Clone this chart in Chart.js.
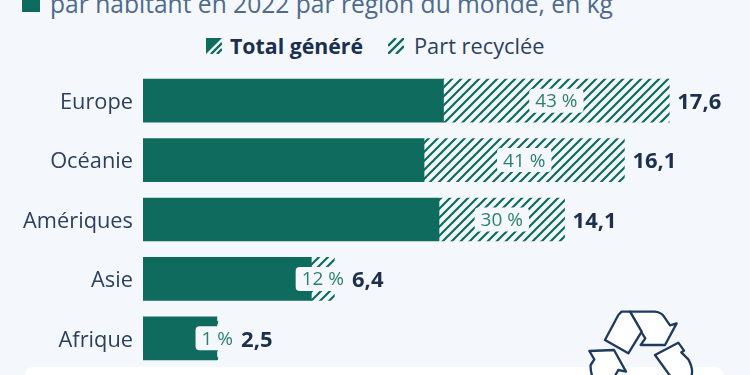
<!DOCTYPE html>
<html lang="fr">
<head>
<meta charset="utf-8">
<script src="https://cdn.jsdelivr.net/npm/chart.js@4"></script>
<style>
  html, body { margin: 0; padding: 0; background: #f4f8fc; }
  #wrap { position: relative; width: 750px; height: 375px; overflow: hidden; font-family: "Open Sans", sans-serif; }
  #panel { position: absolute; left: 25px; top: 367px; width: 698px; height: 30px; background: #fff; border-radius: 8px; }
  #chart { position: absolute; left: 0; top: 0; }
  #square { position: absolute; left: 22px; top: -6px; width: 18px; height: 18px; background: #0f6b5e; }
  #title { position: absolute; left: 50px; top: -12px; font-size: 24.6px; line-height: 32px; color: #4f6a8a; white-space: nowrap; }
  .leg { position: absolute; top: 32px; font-size: 21.8px; line-height: 28px; white-space: nowrap; color: #2b3f5f; }
  .swatch { position: absolute; top: 38px; }
  #icon { position: absolute; left: 540px; top: 290px; }
</style>
</head>
<body>
<div id="wrap">
  <div id="panel"></div>
  <div id="square"></div>
  <div id="title">par habitant en 2022 par région du monde, en kg</div>
  <svg class="swatch" style="left:206px" width="16" height="16" viewBox="0 0 16 16">
    <path d="M0 0H16L0 16Z" fill="#0f6b5e"/><path d="M5 16L16 5M11 16L16 11" stroke="#0f6b5e" stroke-width="2.4"/>
  </svg>
  <div class="leg" style="left:230px;font-size:21.3px;font-weight:700;color:#1c2f4e">Total généré</div>
  <svg class="swatch" style="left:388px" width="16" height="16" viewBox="0 0 16 16">
    <path d="M0 8L8 0M0 16L16 0M8 16L16 8" stroke="#0f6b5e" stroke-width="2.4"/>
  </svg>
  <div class="leg" style="left:414px">Part recyclée</div>
  <canvas id="chart" width="750" height="375"></canvas>
  <svg id="icon" width="210" height="85" viewBox="0 0 630 255" fill="#fff" stroke="#1f3a5f" stroke-width="7" stroke-linejoin="round">
    <path d="M270 65H345Q365 68 372 80L390 106L410 100L375 165H302L316 145L303 125Z"/>
    <path d="M245 65H270L305 125L265 190L195 150L235 75Z"/>
    <path d="M148 183L222 180L258 245L235 240L215 275H165Q150 250 152 225L163 208Z"/>
    <path d="M415 158L432 182L424 187L445 208Q460 235 455 255L440 285H410L345 195Z"/>
  </svg>
</div>
<script>
var regions = ["Europe", "Océanie", "Amériques", "Asie", "Afrique"]
var recycledKg = [7.55, 6.7, 4.2, 0.77, 0.03]
var restKg = [10.05, 9.4, 9.9, 5.63, 2.47]
var totals = ["17,6", "16,1", "14,1", "6,4", "2,5"]
var shares = ["43 %", "41 %", "30 %", "12 %", "1 %"]

var green = "#0f6b5e"
var background = "#f4f8fc"

function stripes(){
    var c = document.createElement("canvas")
    c.width = 9
    c.height = 9
    var x = c.getContext("2d")
    x.strokeStyle = green
    x.lineWidth = 2.2
    x.beginPath()
    x.moveTo(-3, 12); x.lineTo(12, -3)
    x.moveTo(-3, 3); x.lineTo(3, -3)
    x.moveTo(6, 12); x.lineTo(12, 6)
    x.stroke()
    return x.createPattern(c, "repeat")
}

// boxes with the share and the total next to each bar
var barLabels = {
    id: "barLabels",
    afterDatasetsDraw(chart){
        var ctx = chart.ctx
        var solid = chart.getDatasetMeta(0).data
        var hatch = chart.getDatasetMeta(1).data
        ctx.save()
        ctx.textBaseline = "middle"
        regions.forEach(function(r, i){
            var y = hatch[i].y
            var mid = (solid[i].x + hatch[i].x) / 2
            ctx.font = "19px 'Open Sans'"
            var tw = ctx.measureText(shares[i]).width
            var w = tw + 12
            ctx.fillStyle = background
            ctx.beginPath()
            ctx.roundRect(mid - w / 2, y - 12, w, 24, 4)
            ctx.fill()
            ctx.fillStyle = "#2e7f70"
            ctx.textAlign = "center"
            ctx.fillText(shares[i], mid, y + 1)
            ctx.font = "700 22px 'Open Sans'"
            ctx.fillStyle = "#1c2f4e"
            ctx.textAlign = "left"
            var end = Math.max(hatch[i].x, mid + tw / 2)
            ctx.fillText(totals[i], end + 8, y + 2)
        })
        ctx.restore()
    }
}

var canvas = document.querySelector("#chart")

var barChart = new Chart(canvas, {
    type: "bar",
    data: {
        labels: regions,
        datasets: [
            { label: "Total généré", data: restKg, backgroundColor: green, barThickness: 43 },
            { label: "Part recyclée", data: recycledKg, backgroundColor: stripes(), barThickness: 43 }
        ]
    },
    options: {
        indexAxis: "y",
        responsive: false,
        animation: false,
        layout: { padding: { top: 71, bottom: 7, right: 9 } },
        plugins: { legend: { display: false }, tooltip: { enabled: false } },
        scales: {
            x: { stacked: true, display: false, min: 0, max: 20 },
            y: {
                stacked: true,
                // the tick label overhang would otherwise lift the last bar
                afterFit(scale){ scale.width = 143; scale.paddingBottom = 0 },
                grid: { display: false, drawBorder: false },
                border: { display: false },
                ticks: { color: "#2b3f5f", padding: 2, labelOffset: 2, font: { family: "'Open Sans'", size: 21.8 } }
            }
        }
    },
    plugins: [barLabels]
})
</script>
</body>
</html>
